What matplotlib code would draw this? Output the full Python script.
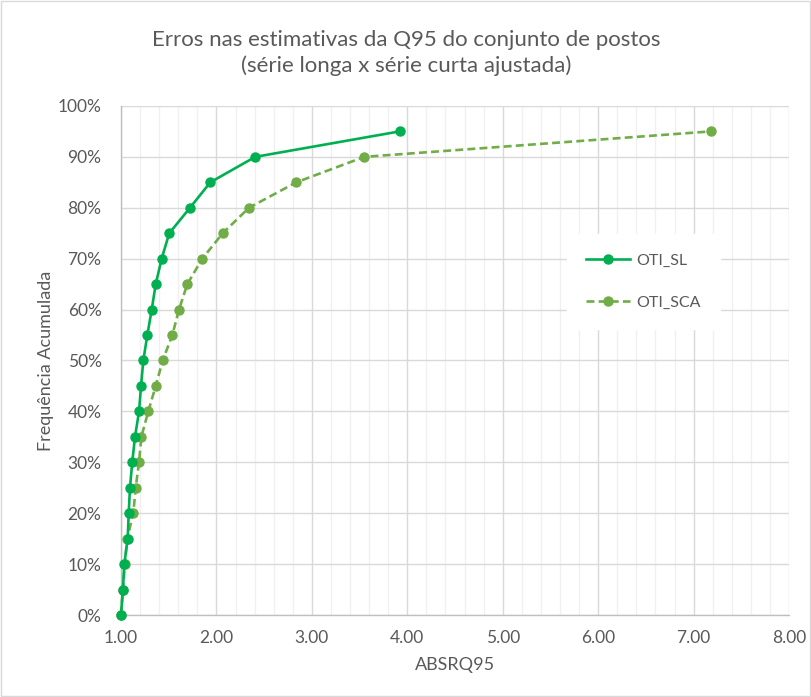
import matplotlib
matplotlib.use("Agg")
import matplotlib.pyplot as plt
from matplotlib.ticker import MultipleLocator, FuncFormatter
from matplotlib.patches import Rectangle

freq = [0.00, 0.05, 0.10, 0.15, 0.20, 0.25, 0.30, 0.35, 0.40, 0.45,
        0.50, 0.55, 0.60, 0.65, 0.70, 0.75, 0.80, 0.85, 0.90, 0.95]
oti_sl = [1.00, 1.02, 1.035, 1.07, 1.081, 1.094, 1.118, 1.147, 1.189, 1.21,
          1.234, 1.276, 1.322, 1.364, 1.426, 1.506, 1.723, 1.936, 2.407, 3.92]
oti_sca = [1.00, 1.02, 1.04, 1.065, 1.129, 1.154, 1.189, 1.213, 1.286, 1.364,
           1.437, 1.538, 1.608, 1.695, 1.852, 2.066, 2.341, 2.837, 3.55, 7.18]

title = "Erros nas estimativas da Q95 do conjunto de postos\n(série longa x série curta ajustada)"
xlabel = "ABSRQ95"
ylabel = "Frequência Acumulada"

plt.rcParams['font.family'] = ['Lato', 'DejaVu Sans']
grey = "#595959"

fig = plt.figure(figsize=(8.12, 6.97), dpi=100)
fig.patches.append(Rectangle((0.001, 0.001), 0.997, 0.997, transform=fig.transFigure,
                             fill=False, edgecolor="#D9D9D9", linewidth=1))
ax = fig.add_axes([0.149, 0.1176, 0.8227, 0.7304])

ax.plot(oti_sl, freq, color="#00B050", linewidth=1.9, marker="o", markersize=6.5,
        label="OTI_SL", zorder=4, clip_on=False)
ax.plot(oti_sca, freq, color="#70AD47", linewidth=1.9, linestyle=(0, (3, 1.6)),
        marker="o", markersize=6.5, label="OTI_SCA", zorder=3, clip_on=False)

ax.set_xlim(1, 8)
ax.set_ylim(0, 1.0)
ax.xaxis.set_major_locator(MultipleLocator(1))
ax.xaxis.set_minor_locator(MultipleLocator(0.2))
ax.yaxis.set_major_locator(MultipleLocator(0.1))
ax.xaxis.set_major_formatter(FuncFormatter(lambda v, p: f"{v:.2f}"))
ax.yaxis.set_major_formatter(FuncFormatter(lambda v, p: f"{v*100:.0f}%"))

ax.grid(which="major", color="#D9D9D9", linewidth=1.0, zorder=0)
ax.grid(which="minor", axis="x", color="#F0F0F0", linewidth=1.0, zorder=0)
ax.set_axisbelow(True)
for s in ["top", "right"]:
    ax.spines[s].set_visible(False)
for s in ["left", "bottom"]:
    ax.spines[s].set_color("#BFBFBF")
    ax.spines[s].set_linewidth(1.0)
ax.tick_params(which="both", length=0, labelsize=12.5, labelcolor=grey)
ax.tick_params(axis="y", pad=14)
ax.tick_params(axis="x", pad=11)

ax.set_xlabel(xlabel, fontsize=13, color=grey, labelpad=8)
ax.set_ylabel(ylabel, fontsize=13, color=grey, labelpad=3)
fig.text(0.5, 0.924, title, ha="center", va="center", fontsize=16, color=grey,
         linespacing=1.35)

leg = ax.legend(loc="center left", bbox_to_anchor=(0.655, 0.655), frameon=True,
                fontsize=11.5, labelspacing=1.75, handlelength=2.8, handletextpad=0.35,
                borderpad=1.2, labelcolor=grey)
leg.get_frame().set_facecolor("white")
leg.get_frame().set_edgecolor("white")
leg.get_frame().set_alpha(1)
leg.get_frame().set_boxstyle("square", pad=0)

fig.savefig("out.png", dpi=100)
